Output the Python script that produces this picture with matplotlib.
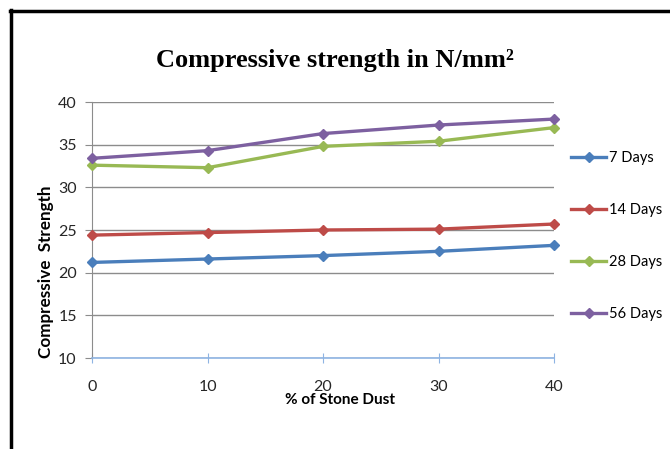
import matplotlib.pyplot as plt
from matplotlib.lines import Line2D

# Data
stone_dust = [0, 10, 20, 30, 40]
days_7 = [21.2, 21.6, 22.0, 22.5, 23.2]
days_14 = [24.4, 24.7, 25.0, 25.1, 25.7]
days_28 = [32.6, 32.3, 34.8, 35.4, 37.0]
days_56 = [33.4, 34.3, 36.3, 37.3, 38.0]
series_names = ["7 Days", "14 Days", "28 Days", "56 Days"]
colours = ["#4A7EBB", "#BE4B48", "#98B954", "#7D60A0"]

W, H = 670, 449
fig = plt.figure(figsize=(6.7, 4.49), dpi=100)
ax = fig.add_axes([92 / W, 1 - 358 / H, (554 - 92) / W, (358 - 102) / H])

for values, name, col in zip([days_7, days_14, days_28, days_56], series_names, colours):
    ax.plot(stone_dust, values, color=col, lw=2.4, marker="D", ms=5,
            label=name, clip_on=False, zorder=3)

ax.set_xlim(0, 40)
ax.set_ylim(10, 40)
ax.set_xticks(stone_dust)
ax.set_yticks(range(10, 41, 5))
ax.grid(axis="y", color="#8C8C8C", lw=1)
ax.set_axisbelow(True)

# Spines: grey left, light blue bottom
for side in ["top", "right"]:
    ax.spines[side].set_visible(False)
ax.spines["left"].set_color("#8C8C8C")
ax.spines["bottom"].set_color("#8EB4E3")
ax.spines["bottom"].set_linewidth(1.2)
ax.tick_params(axis="y", direction="out", length=5, color="#8C8C8C", pad=6)
ax.tick_params(axis="x", direction="inout", length=7, color="#8EB4E3", pad=12)
for lab in ax.get_xticklabels() + ax.get_yticklabels():
    lab.set_fontfamily("Lato")
    lab.set_fontsize(11.5)
    lab.set_color("#262626")

# Labels and title
fig.text(335 / W, 1 - 60 / H, "Compressive strength in N/mm²", ha="center", va="center",
         family="Liberation Serif", weight="bold", fontsize=19)
fig.text(340 / W, 1 - 400 / H, "% of Stone Dust", ha="center", va="center",
         family="Lato", weight="bold", fontsize=11)
fig.text(46 / W, 1 - 272 / H, "Compressive  Strength", ha="center", va="center",
         rotation=90, family="Lato", weight="bold", fontsize=12.3)

leg = ax.legend(loc="center left", bbox_to_anchor=(564 / W, 1 - 236 / H),
                bbox_transform=fig.transFigure, frameon=False, labelspacing=2.6,
                handlelength=2.4, handletextpad=0.2, borderpad=0,
                prop={"family": "Lato", "size": 10.5})

# Outer frame (left and top edges)
fig.add_artist(Line2D([11 / W, 11 / W], [0, 1 - 10 / H], color="black", lw=2.5,
                      transform=fig.transFigure))
fig.add_artist(Line2D([10 / W, 1], [1 - 11 / H, 1 - 11 / H], color="black", lw=2.5,
                      transform=fig.transFigure))

fig.savefig("out.png", dpi=100)
